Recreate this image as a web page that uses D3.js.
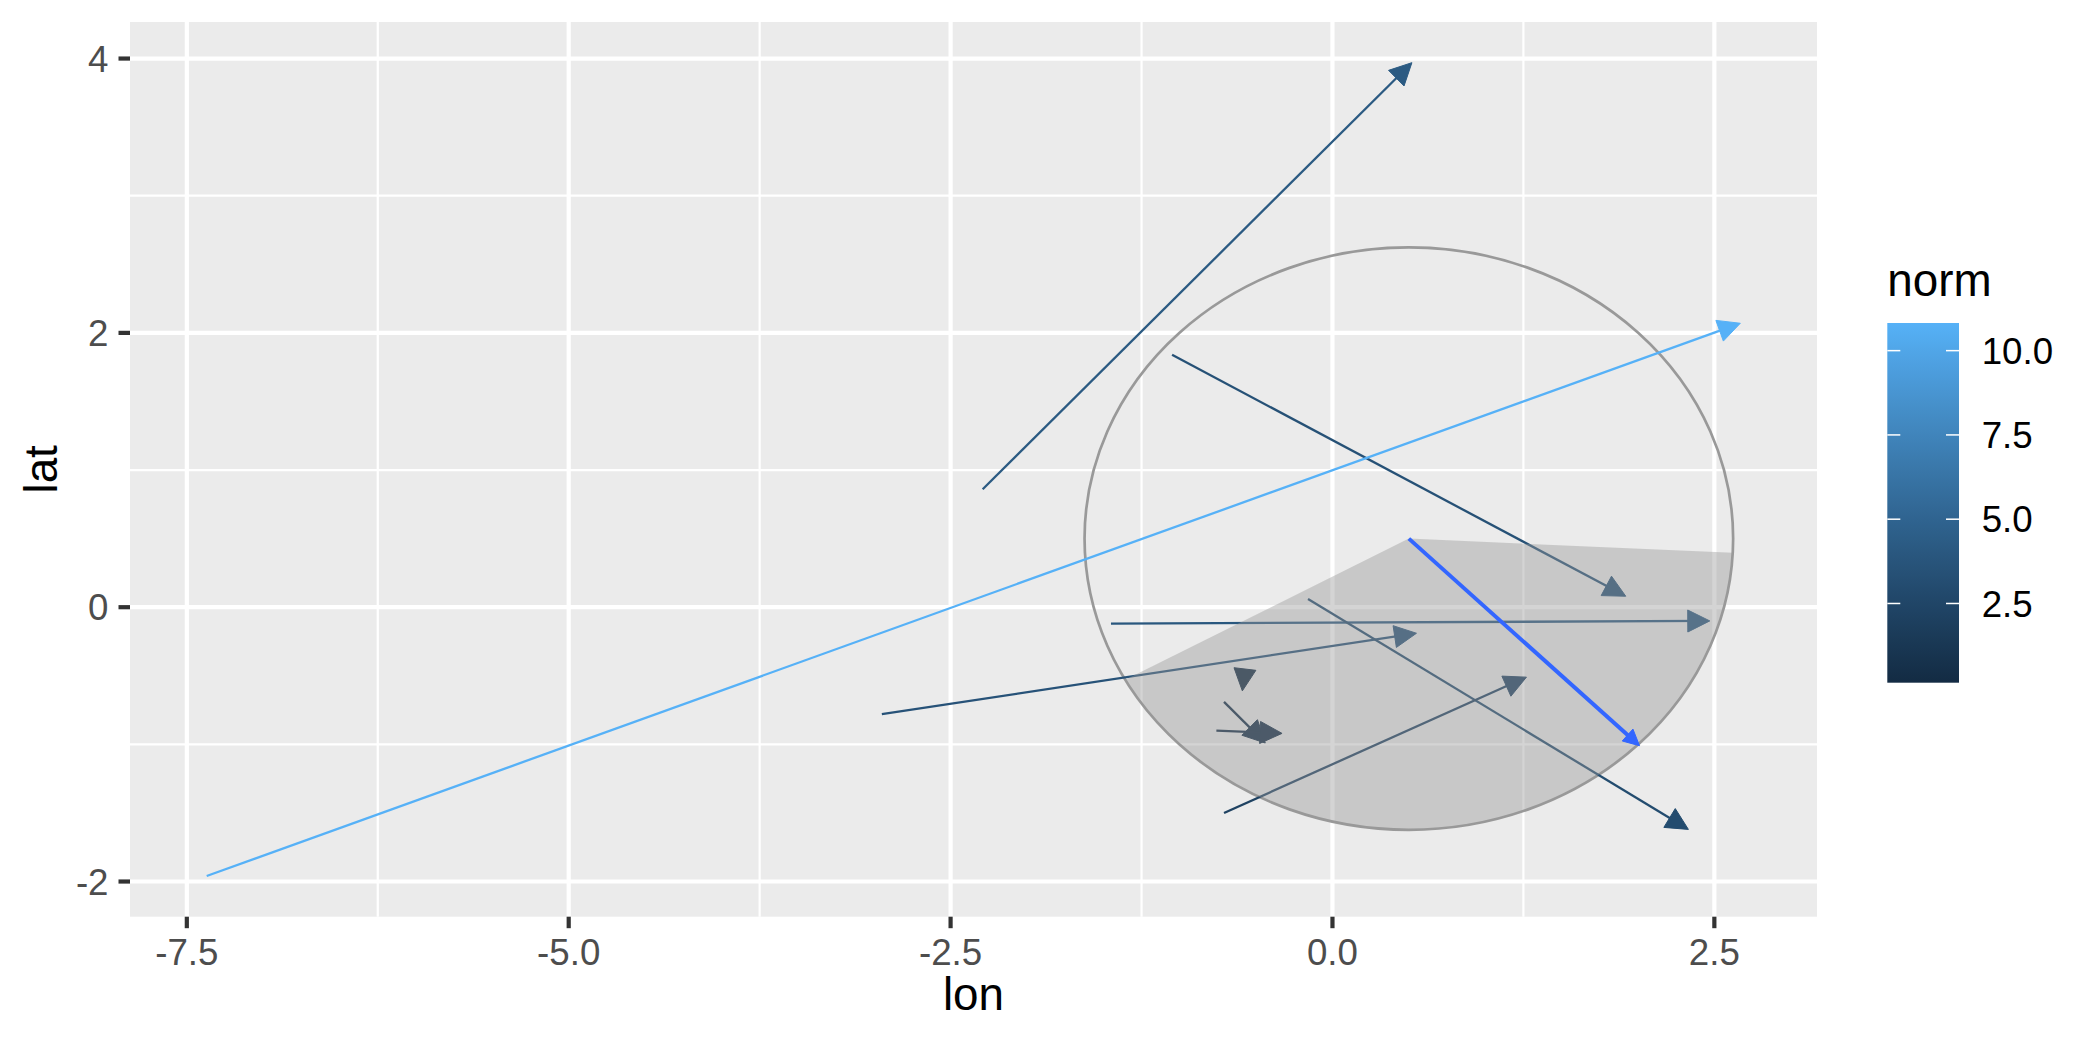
<!DOCTYPE html>
<html>
<head>
<meta charset="utf-8">
<script src="https://cdn.jsdelivr.net/npm/d3@7"></script>
<style>
  body { margin: 0; background: #fff; }
  text { font-family: "Liberation Sans", Arial, sans-serif; }
</style>
</head>
<body>
<div id="vis"></div>
<script>

// wind vectors: tail (lon0, lat0) -> head (lon1, lat1)
var lon0 = [-2.29, -1.05, -7.37, -1.45, -2.95, -0.16, -0.71, -0.575, -0.71, -0.76],
    lat0 = [ 0.86,  1.84, -1.96, -0.12, -0.78,  0.06, -1.50, -0.47,  -0.69, -0.90],
    lon1 = [ 0.52,  1.92,  2.67,  2.47,  0.55,  2.33,  1.27, -0.59,  -0.44, -0.33],
    lat1 = [ 3.97,  0.08,  2.07, -0.10, -0.19, -1.62, -0.51, -0.61,  -0.99, -0.92],
    norm = [ 4.19,  3.45, 10.82,  3.92,  3.55,  3.00,  2.20,  0.15,   0.40,  0.43];

// mean vector
var meanTail = [0.50, 0.50],
    meanHead = [2.01, -1.01];

// circle and shaded sector (angles in degrees)
var circleCenter = [0.50, 0.50],
    circleRadius = 2.123,
    sectorAngles = [209, 357.2];

var xTicks = [-7.5, -5.0, -2.5, 0.0, 2.5],
    xTickLabels = ["-7.5", "-5.0", "-2.5", "0.0", "2.5"],
    xMinor = [-6.25, -3.75, -1.25, 1.25],
    yTicks = [-2, 0, 2, 4],
    yTickLabels = ["-2", "0", "2", "4"],
    yMinor = [-1, 1, 3],
    legendTicks = [2.5, 5.0, 7.5, 10.0],
    legendTickLabels = ["2.5", "5.0", "7.5", "10.0"];

var width = 2100,
    height = 1050,
    panel = {left: 130, right: 1817, top: 22, bottom: 916.7};

var svg = d3.select("#vis").append("svg")
    .attr("width", width)
    .attr("height", height);

// ggplot-style 5% expansion
function expand(lo, hi) {
    var p = (hi - lo) * 0.05;
    return [lo - p, hi + p];
}
var xExt = d3.extent(lon0.concat(lon1)),
    yExt = d3.extent(lat0.concat(lat1));

var x = d3.scaleLinear()
    .domain(expand(xExt[0], xExt[1]))
    .range([panel.left, panel.right]);

var y = d3.scaleLinear()
    .domain(expand(yExt[0], yExt[1]))
    .range([panel.bottom, panel.top]);

var normExt = d3.extent(norm);
var color = d3.scaleLinear()
    .domain(normExt)
    .range(["#132B43", "#56B1F7"])
    .interpolate(d3.interpolateLab);

// panel
svg.append("rect")
    .attr("x", panel.left)
    .attr("y", panel.top)
    .attr("width", panel.right - panel.left)
    .attr("height", panel.bottom - panel.top)
    .attr("fill", "#EBEBEB");

var grid = svg.append("g");

grid.selectAll(".xminor").data(xMinor).enter().append("line")
    .attr("x1", function(d) { return x(d); })
    .attr("x2", function(d) { return x(d); })
    .attr("y1", panel.top).attr("y2", panel.bottom)
    .attr("stroke", "#fff").attr("stroke-width", 2.2);

grid.selectAll(".yminor").data(yMinor).enter().append("line")
    .attr("y1", function(d) { return y(d); })
    .attr("y2", function(d) { return y(d); })
    .attr("x1", panel.left).attr("x2", panel.right)
    .attr("stroke", "#fff").attr("stroke-width", 2.2);

grid.selectAll(".xmajor").data(xTicks).enter().append("line")
    .attr("x1", function(d) { return x(d); })
    .attr("x2", function(d) { return x(d); })
    .attr("y1", panel.top).attr("y2", panel.bottom)
    .attr("stroke", "#fff").attr("stroke-width", 4.2);

grid.selectAll(".ymajor").data(yTicks).enter().append("line")
    .attr("y1", function(d) { return y(d); })
    .attr("y2", function(d) { return y(d); })
    .attr("x1", panel.left).attr("x2", panel.right)
    .attr("stroke", "#fff").attr("stroke-width", 4.2);

// circle
svg.append("ellipse")
    .attr("cx", x(circleCenter[0]))
    .attr("cy", y(circleCenter[1]))
    .attr("rx", x(circleCenter[0] + circleRadius) - x(circleCenter[0]))
    .attr("ry", y(circleCenter[1]) - y(circleCenter[1] + circleRadius))
    .attr("fill", "none")
    .attr("stroke", "#999999")
    .attr("stroke-width", 2.7);

// arrows
function arrowHead(x0, y0, x1, y1, len, half) {
    var a = Math.atan2(y1 - y0, x1 - x0),
        bx = x1 - len * Math.cos(a),
        by = y1 - len * Math.sin(a),
        nx = -Math.sin(a) * half,
        ny = Math.cos(a) * half;
    return "M" + [x1, y1] + "L" + [bx + nx, by + ny] + "L" + [bx - nx, by - ny] + "Z";
}

function shaftEnd(x0, y0, x1, y1, back) {
    var a = Math.atan2(y1 - y0, x1 - x0);
    return [x1 - back * Math.cos(a), y1 - back * Math.sin(a)];
}

var arrows = svg.selectAll(".arrow")
    .data(d3.range(norm.length))
    .enter().append("g");

arrows.append("line")
    .attr("x1", function(i) { return x(lon0[i]); })
    .attr("y1", function(i) { return y(lat0[i]); })
    .attr("x2", function(i) { return shaftEnd(x(lon0[i]), y(lat0[i]), x(lon1[i]), y(lat1[i]), 4)[0]; })
    .attr("y2", function(i) { return shaftEnd(x(lon0[i]), y(lat0[i]), x(lon1[i]), y(lat1[i]), 4)[1]; })
    .attr("stroke", function(i) { return color(norm[i]); })
    .attr("stroke-width", 2.3);

arrows.append("path")
    .attr("d", function(i) {
        return arrowHead(x(lon0[i]), y(lat0[i]), x(lon1[i]), y(lat1[i]), 22, 11);
    })
    .attr("fill", function(i) { return color(norm[i]); })
    .attr("stroke", function(i) { return color(norm[i]); })
    .attr("stroke-width", 1);

// shaded sector
var sectorPts = [circleCenter].concat(
    d3.range(sectorAngles[0], sectorAngles[1] + 0.001, (sectorAngles[1] - sectorAngles[0]) / 60)
        .map(function(deg) {
            var r = deg * Math.PI / 180;
            return [circleCenter[0] + circleRadius * Math.cos(r),
                    circleCenter[1] + circleRadius * Math.sin(r)];
        }));

svg.append("path")
    .attr("d", d3.line()
        .x(function(d) { return x(d[0]); })
        .y(function(d) { return y(d[1]); })(sectorPts) + "Z")
    .attr("fill", "#999999")
    .attr("fill-opacity", 0.42);

// mean vector
var mx0 = x(meanTail[0]), my0 = y(meanTail[1]),
    mx1 = x(meanHead[0]), my1 = y(meanHead[1]),
    me = shaftEnd(mx0, my0, mx1, my1, 4);

svg.append("line")
    .attr("x1", mx0).attr("y1", my0)
    .attr("x2", me[0]).attr("y2", me[1])
    .attr("stroke", "#3366FF")
    .attr("stroke-width", 4);

svg.append("path")
    .attr("d", arrowHead(mx0, my0, mx1, my1, 16, 8))
    .attr("fill", "#3366FF")
    .attr("stroke", "#3366FF")
    .attr("stroke-width", 1);

// axes
var axes = svg.append("g");

axes.selectAll(".xt").data(xTicks).enter().append("line")
    .attr("x1", function(d) { return x(d); })
    .attr("x2", function(d) { return x(d); })
    .attr("y1", panel.bottom).attr("y2", panel.bottom + 11.5)
    .attr("stroke", "#333333").attr("stroke-width", 4.2);

axes.selectAll(".xl").data(xTicks).enter().append("text")
    .attr("x", function(d) { return x(d); })
    .attr("y", 965)
    .attr("text-anchor", "middle")
    .attr("font-size", "36.7px")
    .attr("fill", "#4D4D4D")
    .text(function(d, i) { return xTickLabels[i]; });

axes.selectAll(".yt").data(yTicks).enter().append("line")
    .attr("y1", function(d) { return y(d); })
    .attr("y2", function(d) { return y(d); })
    .attr("x1", panel.left - 11.5).attr("x2", panel.left)
    .attr("stroke", "#333333").attr("stroke-width", 4.2);

axes.selectAll(".yl").data(yTicks).enter().append("text")
    .attr("x", 108.5)
    .attr("y", function(d) { return y(d) + 13.2; })
    .attr("text-anchor", "end")
    .attr("font-size", "36.7px")
    .attr("fill", "#4D4D4D")
    .text(function(d, i) { return yTickLabels[i]; });

svg.append("text")
    .attr("x", (panel.left + panel.right) / 2)
    .attr("y", 1010)
    .attr("text-anchor", "middle")
    .attr("font-size", "45.8px")
    .attr("fill", "#000")
    .text("lon");

svg.append("text")
    .attr("transform", "translate(57," + (panel.top + panel.bottom) / 2 + ")rotate(-90)")
    .attr("text-anchor", "middle")
    .attr("font-size", "45.8px")
    .attr("fill", "#000")
    .text("lat");

// legend
var bar = {left: 1887.3, width: 71.7, top: 323, bottom: 682.7};

var ly = d3.scaleLinear()
    .domain(normExt)
    .range([bar.bottom, bar.top]);

var gradient = svg.append("defs").append("linearGradient")
    .attr("id", "normgrad")
    .attr("x1", "0%").attr("x2", "0%")
    .attr("y1", "100%").attr("y2", "0%");

gradient.selectAll("stop")
    .data(d3.range(0, 1.0001, 0.05))
    .enter().append("stop")
    .attr("offset", function(t) { return t; })
    .attr("stop-color", function(t) { return color(normExt[0] + t * (normExt[1] - normExt[0])); });

svg.append("text")
    .attr("x", bar.left)
    .attr("y", 295.5)
    .attr("font-size", "45.8px")
    .attr("fill", "#000")
    .text("norm");

svg.append("rect")
    .attr("x", bar.left)
    .attr("y", bar.top)
    .attr("width", bar.width)
    .attr("height", bar.bottom - bar.top)
    .attr("fill", "url(#normgrad)");

var lticks = svg.append("g").selectAll("g")
    .data(legendTicks)
    .enter().append("g");

lticks.append("line")
    .attr("x1", bar.left).attr("x2", bar.left + 13)
    .attr("y1", function(d) { return ly(d); })
    .attr("y2", function(d) { return ly(d); })
    .attr("stroke", "#fff").attr("stroke-width", 1.5);

lticks.append("line")
    .attr("x1", bar.left + bar.width - 13).attr("x2", bar.left + bar.width)
    .attr("y1", function(d) { return ly(d); })
    .attr("y2", function(d) { return ly(d); })
    .attr("stroke", "#fff").attr("stroke-width", 1.5);

lticks.append("text")
    .attr("x", 1981.7)
    .attr("y", function(d) { return ly(d) + 13.2; })
    .attr("font-size", "36.7px")
    .attr("fill", "#000")
    .text(function(d, i) { return legendTickLabels[i]; });

</script>
</body>
</html>
